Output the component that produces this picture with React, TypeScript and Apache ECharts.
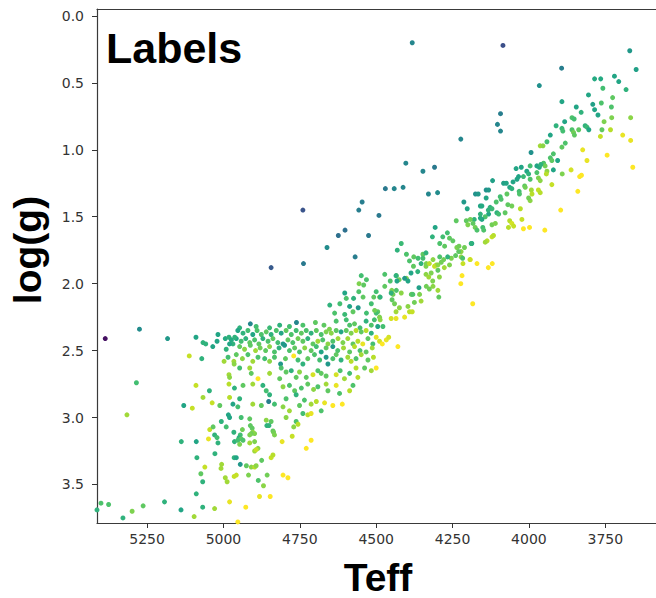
import React, { useEffect, useRef } from 'react';
import * as echarts from 'echarts';

// Axis ticks
const xTicks = [5250, 5000, 4750, 4500, 4250, 4000, 3750];
const yTicks = [0, 0.5, 1.0, 1.5, 2.0, 2.5, 3.0, 3.5];

// viridis colour ramp
const viridis = ['#440154', '#482475', '#414487', '#355f8d', '#2a788e', '#21918c', '#22a884', '#44bf70', '#7ad151', '#bddf26', '#fde725'];

// [Teff, log(g), colour value]
const outlierStars = [
  [4382, 0.20, 0.38], [4085, 0.22, 0.18], [4223, 0.92, 0.38], [4403, 1.10, 0.38], [4347, 1.16, 0.38],
  [4309, 1.13, 0.33], [4470, 1.29, 0.33], [4441, 1.29, 0.38], [4412, 1.28, 0.38], [4329, 1.33, 0.38],
  [4299, 1.32, 0.40], [4546, 1.39, 0.35], [4557, 1.45, 0.35], [4491, 1.49, 0.33], [4602, 1.60, 0.30],
  [4624, 1.64, 0.30], [4525, 1.64, 0.33], [4661, 1.73, 0.40], [4569, 1.80, 0.35], [4093, 0.73, 0.35],
  [4103, 0.81, 0.38], [4093, 0.86, 0.38], [3966, 0.52, 0.42], [3893, 0.39, 0.35], [3670, 0.26, 0.45],
  [3649, 0.40, 0.48], [4740, 1.45, 0.20], [4738, 1.85, 0.33], [4844, 1.88, 0.22], [5387, 2.41, 0.0],
  [5275, 2.34, 0.40], [5183, 2.41, 0.45], [4912, 2.30, 0.38], [4761, 2.29, 0.38],
];

const upperBand = [
  [3785, 0.47, 0.52], [3765, 0.47, 0.52], [3720, 0.45, 0.5], [3706, 0.49, 0.5], [3758, 0.54, 0.6],
  [3682, 0.55, 0.55], [3805, 0.59, 0.5], [3726, 0.61, 0.65], [3892, 0.64, 0.5], [3791, 0.66, 0.48],
  [3763, 0.65, 0.62], [3730, 0.68, 0.62], [3845, 0.68, 0.5], [3829, 0.72, 0.55], [3785, 0.70, 0.5],
  [3774, 0.74, 0.5], [3729, 0.76, 0.7], [3667, 0.76, 0.72], [3859, 0.76, 0.62], [3852, 0.77, 0.6],
  [3754, 0.79, 0.7], [3883, 0.79, 0.5], [3892, 0.84, 0.58], [3889, 0.86, 0.6], [3859, 0.85, 0.62],
  [3854, 0.87, 0.68], [3851, 0.89, 0.65], [3837, 0.85, 0.65], [3816, 0.82, 0.55], [3810, 0.83, 0.58],
  [3804, 0.85, 0.5], [3761, 0.85, 0.65], [3733, 0.85, 0.78], [3766, 0.90, 0.8], [3693, 0.89, 0.85],
  [3667, 0.93, 0.85], [3911, 0.82, 0.55],
  [3744, 1.04, 0.92], [3660, 1.13, 0.97], [3824, 1.00, 0.85], [3810, 1.08, 0.85], [3828, 1.19, 0.9],
  [3834, 1.20, 0.88], [3840, 1.31, 0.95], [3896, 1.45, 0.97], [3948, 1.60, 0.97], [3862, 1.15, 0.82],
  [3891, 1.18, 0.7],
  [3930, 0.89, 0.5], [3941, 0.94, 0.6], [3963, 0.97, 0.75], [3954, 0.97, 0.72], [3881, 0.95, 0.62],
  [3892, 0.98, 0.65], [3993, 1.02, 0.42], [3920, 1.03, 0.62], [3930, 1.06, 0.62], [3925, 1.08, 0.65],
  [3906, 1.08, 0.5], [3952, 1.10, 0.62], [3947, 1.12, 0.68], [3974, 1.12, 0.5], [3966, 1.13, 0.52],
  [3961, 1.11, 0.55], [3996, 1.12, 0.6], [3941, 1.16, 0.72], [3943, 1.18, 0.78], [3920, 1.15, 0.5],
  [4042, 1.14, 0.5], [4025, 1.13, 0.5], [4007, 1.16, 0.5], [4001, 1.18, 0.55], [3974, 1.17, 0.62],
  [3969, 1.21, 0.7], [3963, 1.23, 0.72], [3996, 1.22, 0.62], [4018, 1.20, 0.58], [4034, 1.20, 0.5],
  [4039, 1.22, 0.5], [3925, 1.26, 0.8], [4083, 1.25, 0.48], [4074, 1.25, 0.5], [4052, 1.24, 0.5],
  [4063, 1.28, 0.5], [4056, 1.29, 0.55], [4032, 1.31, 0.6], [4031, 1.33, 0.62], [4014, 1.27, 0.65],
  [4012, 1.28, 0.68], [3992, 1.30, 0.75], [3990, 1.33, 0.78], [3969, 1.30, 0.8], [3963, 1.32, 0.78],
  [4119, 1.23, 0.48], [4140, 1.30, 0.42], [4132, 1.30, 0.45], [4175, 1.33, 0.42], [4166, 1.33, 0.45],
  [4140, 1.36, 0.5], [4159, 1.42, 0.5], [4154, 1.42, 0.52], [4127, 1.43, 0.55], [4121, 1.44, 0.58],
  [4094, 1.35, 0.6], [4091, 1.37, 0.62], [4072, 1.33, 0.65], [4107, 1.39, 0.62], [4056, 1.42, 0.68],
  [4069, 1.41, 0.65], [4028, 1.44, 0.78], [3996, 1.38, 0.72], [4001, 1.36, 0.68], [4078, 1.47, 0.65],
  [4105, 1.47, 0.55], [4099, 1.48, 0.6], [4132, 1.48, 0.5], [4143, 1.50, 0.62], [4154, 1.52, 0.5],
  [4159, 1.51, 0.52], [4179, 1.52, 0.55], [4183, 1.55, 0.65], [4176, 1.58, 0.68], [4170, 1.60, 0.62],
  [4151, 1.58, 0.6], [4148, 1.60, 0.62], [4121, 1.56, 0.68], [4110, 1.55, 0.7], [4063, 1.53, 0.78],
  [4056, 1.55, 0.82], [4050, 1.57, 0.8], [4067, 1.58, 0.78], [4023, 1.52, 0.8], [4018, 1.59, 0.88],
  [3998, 1.58, 0.88], [4121, 1.65, 0.8], [4116, 1.64, 0.78], [4137, 1.68, 0.78], [4143, 1.69, 0.75],
  [4187, 1.70, 0.5],
];

const midBand = [
  [4213, 1.39, 0.45], [4202, 1.44, 0.5], [4238, 1.53, 0.65], [4205, 1.53, 0.65], [4192, 1.52, 0.68],
  [4200, 1.56, 0.7], [4159, 1.48, 0.55], [4133, 1.45, 0.55], [4307, 1.58, 0.5], [4316, 1.65, 0.55],
  [4282, 1.65, 0.6], [4267, 1.62, 0.6], [4260, 1.66, 0.65], [4292, 1.70, 0.62], [4276, 1.72, 0.65],
  [4249, 1.68, 0.65], [4236, 1.73, 0.7], [4229, 1.72, 0.68], [4222, 1.76, 0.72], [4211, 1.73, 0.68],
  [4189, 1.70, 0.55], [4431, 1.75, 0.55], [4418, 1.70, 0.58], [4401, 1.78, 0.62], [4377, 1.80, 0.65],
  [4363, 1.81, 0.6], [4347, 1.78, 0.65], [4336, 1.85, 0.7], [4314, 1.82, 0.72], [4303, 1.86, 0.75],
  [4292, 1.80, 0.62], [4279, 1.82, 0.68], [4254, 1.81, 0.7], [4240, 1.79, 0.65], [4222, 1.80, 0.72],
  [4216, 1.85, 0.8], [4192, 1.82, 0.85], [4170, 1.85, 0.95], [4133, 1.88, 0.97], [4120, 1.85, 0.95],
  [4219, 1.94, 0.92], [4223, 2.00, 0.92], [4549, 1.94, 0.6], [4532, 1.97, 0.62], [4556, 2.00, 0.7],
  [4541, 2.01, 0.65], [4472, 1.93, 0.62], [4434, 1.94, 0.65], [4425, 1.97, 0.68], [4401, 1.96, 0.7],
  [4454, 1.98, 0.62], [4603, 2.07, 0.5], [4574, 2.11, 0.55], [4557, 2.06, 0.62], [4508, 2.10, 0.65],
  [4489, 2.10, 0.7], [4472, 2.02, 0.65], [4449, 2.05, 0.7], [4445, 2.08, 0.68], [4434, 2.05, 0.62],
  [4418, 2.07, 0.72], [4385, 2.08, 0.65], [4358, 2.08, 0.7], [4336, 2.02, 0.68], [4314, 2.02, 0.72],
  [4298, 2.05, 0.75], [4295, 2.10, 0.65],
  [4435, 1.94, 0.55], [4432, 1.98, 0.5], [4407, 1.96, 0.45], [4396, 1.98, 0.5], [4386, 1.92, 0.5],
  [4364, 1.91, 0.55], [4337, 1.93, 0.72], [4328, 1.95, 0.75], [4320, 1.92, 0.7], [4298, 1.90, 0.65],
  [4293, 1.95, 0.72], [4315, 1.98, 0.7], [4360, 2.03, 0.48], [4380, 2.08, 0.62], [4326, 2.04, 0.68],
  [4451, 2.07, 0.55],
  [4391, 1.83, 0.62], [4378, 1.87, 0.65], [4353, 1.85, 0.55], [4337, 1.87, 0.7], [4326, 1.85, 0.78],
  [4309, 1.87, 0.8], [4298, 1.86, 0.72], [4287, 1.84, 0.68], [4277, 1.88, 0.75], [4260, 1.86, 0.7],
  [4337, 1.77, 0.55], [4347, 1.81, 0.6], [4266, 1.80, 0.55], [4217, 1.81, 0.62], [4193, 1.82, 0.8],
  [4230, 1.76, 0.65],
  [4184, 2.15, 0.95], [4448, 2.12, 0.65], [4440, 2.15, 0.68], [4424, 2.18, 0.72], [4435, 2.21, 0.75],
  [4396, 2.17, 0.72], [4391, 2.21, 0.78], [4382, 2.21, 0.8], [4375, 2.14, 0.68], [4353, 2.13, 0.75],
  [4451, 2.26, 0.82], [4435, 2.26, 0.85], [4407, 2.25, 0.85], [4495, 2.21, 0.65], [4489, 2.25, 0.7],
  [4500, 2.22, 0.6], [4487, 2.27, 0.72], [4495, 2.32, 0.5], [4478, 2.32, 0.6], [4500, 2.40, 0.85],
  [4489, 2.43, 0.82], [4480, 2.45, 0.88], [4467, 2.42, 0.85], [4459, 2.40, 0.82], [4429, 2.47, 0.95],
  [4500, 2.63, 0.9], [4500, 2.06, 0.6], [4487, 2.10, 0.55],
  [4652, 2.16, 0.55], [4619, 2.15, 0.6], [4587, 2.17, 0.5], [4559, 2.18, 0.45], [4598, 2.11, 0.62],
  [4543, 2.10, 0.65], [4516, 2.15, 0.6], [4505, 2.20, 0.68], [4636, 2.22, 0.62], [4603, 2.23, 0.58],
  [4576, 2.21, 0.65], [4532, 2.22, 0.6],
];

const clumpStars = [
  [4699, 2.29, 0.65], [4671, 2.31, 0.65], [4653, 2.34, 0.7], [4631, 2.28, 0.62], [4598, 2.27, 0.6],
  [4587, 2.31, 0.62], [4571, 2.30, 0.65], [4553, 2.33, 0.6], [4533, 2.28, 0.55], [4516, 2.31, 0.62],
  [4506, 2.27, 0.6], [4947, 2.33, 0.55], [4893, 2.32, 0.6], [4849, 2.33, 0.58], [4816, 2.31, 0.55],
  [4784, 2.32, 0.6], [4740, 2.31, 0.62],
  [4953, 2.35, 0.5], [4936, 2.37, 0.55], [4920, 2.35, 0.6], [4904, 2.38, 0.5], [4890, 2.35, 0.62],
  [4876, 2.38, 0.62], [4860, 2.36, 0.65], [4844, 2.38, 0.55], [4827, 2.35, 0.62], [4811, 2.37, 0.5],
  [4795, 2.35, 0.65], [4778, 2.38, 0.62], [4762, 2.35, 0.6], [4745, 2.37, 0.65], [4729, 2.35, 0.62],
  [4713, 2.37, 0.55], [4696, 2.35, 0.65], [4680, 2.38, 0.62], [4664, 2.36, 0.7], [4647, 2.37, 0.72],
  [4631, 2.35, 0.65], [4615, 2.36, 0.5], [4598, 2.35, 0.65], [4582, 2.37, 0.7], [4566, 2.35, 0.78],
  [4549, 2.36, 0.65], [4533, 2.35, 0.78], [4516, 2.37, 0.55],
  [4958, 2.41, 0.5], [4942, 2.43, 0.6], [4927, 2.41, 0.55], [4914, 2.44, 0.65], [4898, 2.42, 0.62],
  [4884, 2.45, 0.65], [4871, 2.41, 0.55], [4854, 2.43, 0.62], [4838, 2.41, 0.65], [4822, 2.44, 0.6],
  [4805, 2.45, 0.45], [4789, 2.42, 0.65], [4773, 2.44, 0.62], [4756, 2.41, 0.68], [4740, 2.43, 0.65],
  [4724, 2.41, 0.55], [4707, 2.45, 0.65], [4691, 2.43, 0.75], [4675, 2.42, 0.62], [4658, 2.45, 0.72],
  [4642, 2.43, 0.62], [4625, 2.41, 0.75], [4609, 2.44, 0.7], [4593, 2.41, 0.75], [4576, 2.45, 0.65],
  [4560, 2.43, 0.78], [4544, 2.45, 0.85], [4527, 2.41, 0.65], [4511, 2.45, 0.6],
  [4947, 2.47, 0.65], [4931, 2.49, 0.72], [4912, 2.46, 0.65], [4895, 2.50, 0.75], [4880, 2.48, 0.68],
  [4862, 2.50, 0.65], [4849, 2.47, 0.72], [4833, 2.51, 0.62], [4818, 2.48, 0.55], [4800, 2.46, 0.45],
  [4784, 2.50, 0.62], [4767, 2.48, 0.65], [4751, 2.51, 0.62], [4734, 2.48, 0.72], [4713, 2.50, 0.65],
  [4696, 2.47, 0.6], [4680, 2.51, 0.5], [4664, 2.48, 0.65], [4642, 2.47, 0.45], [4626, 2.50, 0.62],
  [4607, 2.48, 0.75], [4587, 2.51, 0.65], [4571, 2.47, 0.78], [4553, 2.50, 0.62], [4533, 2.51, 0.65],
  [4513, 2.48, 0.75],
  [4958, 2.53, 0.65], [4938, 2.56, 0.72], [4920, 2.53, 0.62], [4904, 2.58, 0.75], [4887, 2.55, 0.62],
  [4865, 2.56, 0.6], [4849, 2.58, 0.72], [4833, 2.55, 0.62], [4813, 2.60, 0.45], [4797, 2.56, 0.65],
  [4770, 2.54, 0.88], [4756, 2.57, 0.6], [4740, 2.60, 0.55], [4724, 2.56, 0.65], [4702, 2.53, 0.62],
  [4685, 2.57, 0.6], [4664, 2.55, 0.45], [4658, 2.60, 0.45], [4642, 2.56, 0.62], [4631, 2.53, 0.65],
  [4615, 2.57, 0.55], [4593, 2.55, 0.75], [4582, 2.58, 0.78], [4566, 2.56, 0.62], [4549, 2.53, 0.75],
  [4527, 2.57, 0.65], [4509, 2.55, 0.78],
  [4947, 2.63, 0.6], [4914, 2.63, 0.75], [4909, 2.67, 0.65], [4887, 2.71, 0.88], [4849, 2.67, 0.75],
  [4811, 2.63, 0.62], [4795, 2.66, 0.65], [4778, 2.65, 0.55], [4762, 2.70, 0.65], [4751, 2.66, 0.72],
  [4729, 2.70, 0.65], [4707, 2.68, 0.82], [4691, 2.65, 0.62], [4680, 2.67, 0.65], [4664, 2.69, 0.65],
  [4631, 2.68, 0.82], [4618, 2.65, 0.62], [4604, 2.71, 0.75], [4587, 2.67, 0.6], [4566, 2.63, 0.78],
  [4560, 2.70, 0.78], [4538, 2.63, 0.65], [4516, 2.65, 0.75],
  [4936, 2.76, 0.65], [4904, 2.75, 0.75], [4871, 2.76, 0.55], [4860, 2.80, 0.6], [4849, 2.83, 0.55],
  [4816, 2.71, 0.65], [4805, 2.77, 0.72], [4784, 2.76, 0.62], [4767, 2.80, 0.65], [4745, 2.78, 0.62],
  [4724, 2.75, 0.65], [4705, 2.79, 0.72], [4691, 2.77, 0.62], [4664, 2.75, 0.75], [4658, 2.80, 0.65],
  [4631, 2.76, 0.85], [4620, 2.82, 0.62], [4587, 2.80, 0.78], [4576, 2.76, 0.62],
  [4947, 2.86, 0.55], [4953, 2.92, 0.6], [4904, 2.90, 0.75], [4876, 2.91, 0.65], [4852, 2.88, 0.35],
  [4833, 2.90, 0.6], [4805, 2.92, 0.72], [4795, 2.86, 0.62], [4784, 2.95, 0.75], [4762, 2.83, 0.55],
  [4751, 2.91, 0.65], [4735, 2.87, 0.62], [4713, 2.90, 0.75], [4696, 2.88, 0.78], [4680, 2.95, 0.62],
  [4669, 2.89, 0.85], [4642, 2.91, 0.92], [4611, 2.90, 0.9], [4740, 2.97, 0.6], [4724, 2.98, 0.78],
  [4713, 2.97, 0.85],
  [4942, 3.00, 0.6], [4914, 3.01, 0.65], [4860, 3.02, 0.72], [4844, 3.03, 0.65], [4795, 3.00, 0.72],
  [4762, 3.03, 0.62], [4756, 3.05, 0.78],
];

const lowerFan = [
  [5067, 2.44, 0.55], [5058, 2.45, 0.55], [5035, 2.47, 0.5], [5018, 2.38, 0.5], [5021, 2.43, 0.5],
  [4994, 2.41, 0.52], [4982, 2.40, 0.55], [4974, 2.42, 0.52], [4969, 2.45, 0.55], [4980, 2.45, 0.5],
  [4963, 2.40, 0.55], [4991, 2.49, 0.55], [5090, 2.40, 0.5], [5112, 2.54, 0.8], [5071, 2.56, 0.55],
  [4985, 2.55, 0.6], [4998, 2.58, 0.75], [4966, 2.58, 0.75], [4965, 2.60, 0.72], [5285, 2.74, 0.6],
  [5090, 2.76, 0.8], [4982, 2.68, 0.75], [4980, 2.70, 0.72], [4982, 2.75, 0.78], [5046, 2.80, 0.55],
  [4964, 2.78, 0.55], [5067, 2.85, 0.75], [5037, 2.89, 0.8], [4980, 2.85, 0.78], [5012, 2.91, 0.65],
  [4969, 2.90, 0.5], [5130, 2.91, 0.5], [5102, 2.93, 0.8], [5316, 2.98, 0.75], [4984, 2.98, 0.5],
  [4980, 3.00, 0.5], [5007, 3.03, 0.55],
  [5138, 3.18, 0.55], [5089, 3.18, 0.5], [5045, 3.09, 0.8], [5034, 3.07, 0.65], [5049, 3.16, 0.85],
  [5029, 3.13, 0.55], [5021, 3.15, 0.6], [5018, 3.19, 0.55], [4991, 3.07, 0.6], [4966, 3.11, 0.55],
  [4964, 3.18, 0.55], [5087, 3.30, 0.55], [5028, 3.27, 0.55], [5061, 3.37, 0.8], [5006, 3.35, 0.75],
  [5008, 3.38, 0.75], [5074, 3.42, 0.65], [5068, 3.48, 0.55], [4994, 3.45, 0.75], [4988, 3.48, 0.75],
  [4965, 3.30, 0.55], [4965, 3.44, 0.8], [4980, 3.63, 0.85], [5089, 3.57, 0.55], [5193, 3.63, 0.55],
  [5263, 3.66, 0.65], [5299, 3.70, 0.7], [5329, 3.75, 0.55], [5376, 3.65, 0.62], [5401, 3.64, 0.62],
  [5414, 3.69, 0.55], [5139, 3.69, 0.5], [5068, 3.67, 0.55], [5029, 3.68, 0.75], [5096, 3.74, 0.75],
  [4938, 3.09, 0.68], [4912, 3.06, 0.65], [4906, 3.08, 0.65], [4898, 3.12, 0.7], [4904, 3.11, 0.72],
  [4909, 3.12, 0.68], [4914, 3.13, 0.7], [4945, 3.13, 0.6], [4949, 3.15, 0.55], [4942, 3.16, 0.65],
  [4953, 3.17, 0.6], [4947, 3.20, 0.7], [4936, 3.17, 0.62], [4914, 3.19, 0.75], [4898, 3.18, 0.7],
  [4838, 3.10, 0.65], [4836, 3.11, 0.68], [4833, 3.13, 0.7], [4858, 3.06, 0.55], [4851, 3.06, 0.55],
  [4770, 3.07, 0.72], [4775, 3.14, 0.8], [4808, 3.18, 0.85], [4713, 3.17, 0.95], [4729, 3.23, 0.95],
  [4898, 3.25, 0.75], [4887, 3.23, 0.72], [4893, 3.24, 0.8], [4958, 3.30, 0.5], [4875, 3.32, 0.65],
  [4844, 3.30, 0.8], [4838, 3.28, 0.78], [4945, 3.35, 0.45], [4925, 3.36, 0.65], [4909, 3.37, 0.72],
  [4898, 3.37, 0.78], [4893, 3.36, 0.72], [4958, 3.43, 0.8], [4918, 3.43, 0.7], [4857, 3.43, 0.68],
  [4805, 3.43, 0.88], [4789, 3.45, 0.92], [4886, 3.47, 0.62], [4869, 3.51, 0.72], [4882, 3.59, 0.85],
  [4847, 3.59, 0.88], [4927, 3.67, 0.9], [4953, 3.78, 0.92],
];

const X_MIN = 3584;
const X_MAX = 5414;
const Y_MIN = -0.052;
const Y_MAX = 3.788;

export default function App() {
  const ref = useRef<HTMLDivElement>(null);

  useEffect(() => {
    if (!ref.current) return;
    const chart = echarts.init(ref.current, null, { renderer: 'svg' });
    const data = [...outlierStars, ...upperBand, ...midBand, ...clumpStars, ...lowerFan];
    const tickFont = { fontSize: 14, fontFamily: '"DejaVu Sans", sans-serif', color: '#333' };
    const spine = { show: true, onZero: false, lineStyle: { color: '#3a3a3a', width: 1.2 } };
    const bigFont = { fontSize: 39, fontWeight: 'bold', fontFamily: '"Liberation Sans", Arial, sans-serif', fill: '#000' };
    chart.setOption({
      animation: false,
      backgroundColor: '#ffffff',
      grid: { left: 97, top: 9, right: 0, bottom: 75 },
      xAxis: [
        {
          type: 'value',
          min: X_MIN,
          max: X_MAX,
          inverse: true,
          axisLine: spine,
          axisTick: { show: true, length: 5, customValues: xTicks, lineStyle: { color: '#333', width: 1 } },
          axisLabel: { ...tickFont, margin: 9, customValues: xTicks, formatter: (v: number) => String(v) },
          splitLine: { show: false },
        },
        {
          type: 'value',
          position: 'top',
          min: X_MIN,
          max: X_MAX,
          inverse: true,
          axisLine: spine,
          axisTick: { show: false },
          axisLabel: { show: false },
          splitLine: { show: false },
        },
      ],
      yAxis: {
        type: 'value',
        min: Y_MIN,
        max: Y_MAX,
        inverse: true,
        axisLine: spine,
        axisTick: { show: true, length: 5, customValues: yTicks, lineStyle: { color: '#333', width: 1 } },
        axisLabel: { ...tickFont, margin: 13, customValues: yTicks, formatter: (v: number) => v.toFixed(1) },
        splitLine: { show: false },
      },
      visualMap: {
        show: false,
        type: 'continuous',
        min: -0.04,
        max: 0.88,
        dimension: 2,
        seriesIndex: 0,
        inRange: { color: viridis },
      },
      series: [
        {
          type: 'scatter',
          xAxisIndex: 0,
          yAxisIndex: 0,
          data,
          symbolSize: 5,
          itemStyle: { opacity: 1 },
        },
      ],
      graphic: [
        {
          type: 'text',
          x: 106,
          y: 48.4,
          style: { text: 'Labels', ...bigFont, fontSize: 43, align: 'left', verticalAlign: 'middle' },
        },
        {
          type: 'text',
          x: 378,
          y: 577.3,
          style: { text: 'Teff', ...bigFont, align: 'center', verticalAlign: 'middle' },
        },
        {
          type: 'text',
          x: 27,
          y: 250,
          rotation: Math.PI / 2,
          style: { text: 'log(g)', ...bigFont, align: 'center', verticalAlign: 'middle' },
        },
      ],
    });
    return () => chart.dispose();
  }, []);

  return (
    <div
      ref={ref}
      style={{ position: 'fixed', left: 0, top: 0, width: 656, height: 598, background: '#fff' }}
    />
  );
}
